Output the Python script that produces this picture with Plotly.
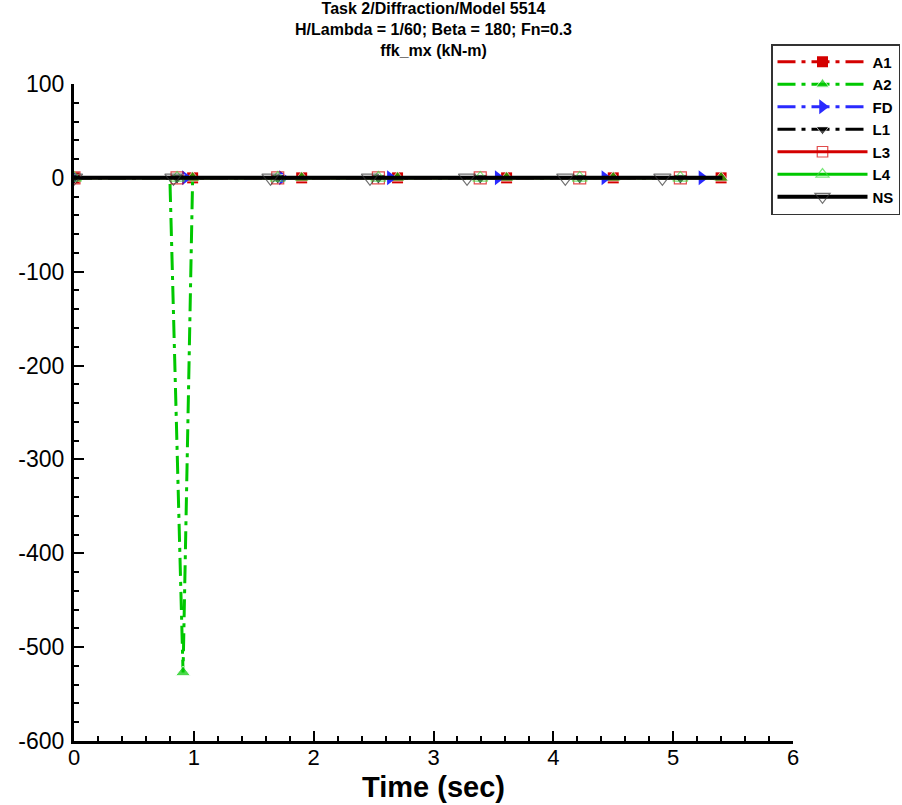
import plotly.graph_objects as go

# ---- data ----
t_A1 = [0.0, 0.99, 1.90, 2.70, 3.61, 4.50, 5.40]
v_A1 = [0, 0, 0, 0, 0, 0, 0]

t_A2 = [0.0, 0.80, 0.91, 0.99, 1.90, 2.70, 3.61, 4.50, 5.40]
v_A2 = [0, 0, -527, 0, 0, 0, 0, 0, 0]
m_A2 = [1, 0, 1, 1, 1, 1, 1, 1, 1]  # which points carry a symbol

t_FD = [0.0, 0.93, 1.74, 2.64, 3.54, 4.43, 5.24]
v_FD = [0, 0, 0, 0, 0, 0, 0]

t_L = [0.0, 0.86, 1.70, 2.54, 3.39, 4.22, 5.06, 5.41]
v_L = [0, 0, 0, 0, 0, 0, 0, 0]
m_L = [1, 1, 1, 1, 1, 1, 1, 0]

t_NS = [0.0, 0.83, 1.64, 2.47, 3.28, 4.10, 4.91, 5.41]
v_NS = [0, 0, 0, 0, 0, 0, 0, 0]
m_NS = [1, 1, 1, 1, 1, 1, 1, 0]

x_ticks = [0, 1, 2, 3, 4, 5, 6]
y_ticks = [100, 0, -100, -200, -300, -400, -500, -600]

title_lines = ["Task 2/Diffraction/Model 5514",
               "H/Lambda = 1/60; Beta = 180; Fn=0.3",
               "ffk_mx (kN-m)"]
x_title = "Time (sec)"

RED = "#d40000"
GREEN = "#00c800"
BLUE = "#2a2aff"
BLACK = "#000000"
DASH = "18px,6px,4px,6px"

fig = go.Figure()

def sizes(mask, s):
    return [s if m else 0 for m in mask]

fig.add_trace(go.Scatter(x=t_A1, y=v_A1, name="A1", mode="lines+markers",
                         line=dict(color=RED, width=3, dash=DASH),
                         marker=dict(symbol="square", size=11, color=RED)))
fig.add_trace(go.Scatter(x=t_A2, y=v_A2, name="A2", mode="lines+markers",
                         line=dict(color=GREEN, width=3, dash=DASH),
                         marker=dict(symbol="triangle-up", size=sizes(m_A2, 13), color=GREEN)))
fig.add_trace(go.Scatter(x=t_FD, y=v_FD, name="FD", mode="lines+markers",
                         line=dict(color=BLUE, width=3, dash=DASH),
                         marker=dict(symbol="triangle-right", size=13, color=BLUE)))
fig.add_trace(go.Scatter(x=t_L, y=v_L, name="L1", mode="lines+markers",
                         line=dict(color=BLACK, width=3, dash=DASH),
                         marker=dict(symbol="triangle-down", size=sizes(m_L, 13), color=BLACK)))
fig.add_trace(go.Scatter(x=t_L, y=v_L, name="L3", mode="lines+markers",
                         line=dict(color=RED, width=3),
                         marker=dict(symbol="square-open", size=sizes(m_L, 12), color=RED,
                                     line=dict(width=1.2, color=RED))))
fig.add_trace(go.Scatter(x=t_L, y=v_L, name="L4", mode="lines+markers",
                         line=dict(color=GREEN, width=3),
                         marker=dict(symbol="triangle-up-open", size=sizes(m_L, 13), color="#44dd44",
                                     line=dict(width=1.2, color="#44dd44"))))
fig.add_trace(go.Scatter(x=t_NS, y=v_NS, name="NS", mode="lines+markers",
                         line=dict(color=BLACK, width=4),
                         marker=dict(symbol="triangle-down-open", size=sizes(m_NS, 15), color="#333333",
                                     line=dict(width=1.2, color="#333333"))))

FONT = "Liberation Sans, Arial, sans-serif"

# plot area: x 74..793, y 84..741 (pixels)
PL, PR, PT, PB = 74, 793, 84, 741
def py(pix):
    return (PB - pix) / (PB - PT)

annotations = [
    dict(text="<b>" + "<br>".join(title_lines) + "</b>", xref="paper", yref="paper",
         x=0.5, y=py(30), xanchor="center", yanchor="middle", align="center",
         showarrow=False, font=dict(family=FONT, size=16, color="black")),
    dict(text="<b>%s</b>" % x_title, xref="paper", yref="paper",
         x=0.5, y=py(787), xanchor="center", yanchor="middle",
         showarrow=False, font=dict(family=FONT, size=29, color="black")),
]

fig.update_layout(
    width=902, height=805,
    margin=dict(l=PL, r=902 - PR, t=PT, b=805 - PB, autoexpand=False),
    paper_bgcolor="white", plot_bgcolor="white",
    font=dict(family=FONT, color="black"),
    showlegend=True,
    annotations=annotations,
    legend=dict(x=771 / 902, y=1 - 44 / 805, xref="container", yref="container",
                xanchor="left", yanchor="top",
                bordercolor="#333333", borderwidth=1.5, bgcolor="white",
                font=dict(family=FONT, size=15, color="black", weight="bold"),
                tracegroupgap=0, itemwidth=90,
                traceorder="normal"),
)

fig.update_xaxes(range=[0, 6], tickvals=x_ticks, ticktext=[str(v) for v in x_ticks],
                 showgrid=False, zeroline=False, automargin=False,
                 showline=True, linecolor="black", linewidth=3,
                 ticks="inside", ticklen=10, tickwidth=2, tickcolor="black",
                 tickfont=dict(family=FONT, size=22, color="black"),
                 minor=dict(dtick=0.2, ticks="inside", ticklen=5, tickwidth=1.5, tickcolor="black", showgrid=False),
                 ticklabelstandoff=-5)
fig.update_yaxes(range=[-600, 100], tickvals=y_ticks, ticktext=[str(v) for v in y_ticks],
                 showgrid=False, zeroline=False, automargin=False,
                 showline=True, linecolor="black", linewidth=3,
                 ticks="inside", ticklen=10, tickwidth=2, tickcolor="black",
                 tickfont=dict(family=FONT, size=23, color="black"),
                 minor=dict(dtick=20, ticks="inside", ticklen=5, tickwidth=1.5, tickcolor="black", showgrid=False),
                 ticklabelstandoff=2)

fig.write_html("out.html", config={"displayModeBar": False},
               post_script="document.body.style.margin='0px';document.body.style.overflow='hidden';")
